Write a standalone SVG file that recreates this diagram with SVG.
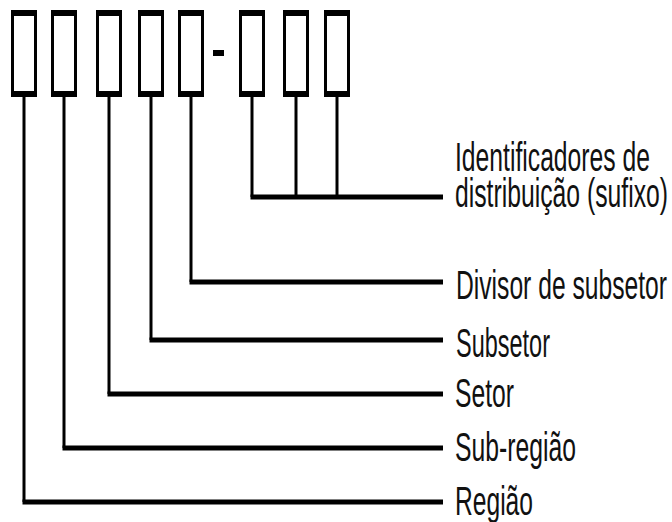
<svg xmlns="http://www.w3.org/2000/svg" width="672" height="522" viewBox="0 0 672 522">
<style>
.box{fill:#fff;stroke:#000;stroke-width:3}
.bar{fill:#000}
.v{stroke:#000;stroke-width:3;fill:none}
.h{stroke:#000;stroke-width:5;fill:none}
.lbl{font-family:"Liberation Sans Narrow","Liberation Sans",Arial,sans-serif;font-size:40px;fill:#111}
</style>
<rect width="672" height="522" fill="#fff"/>
<defs>
<g id="digit">
<rect class="box" x="1.5" y="1.5" width="23" height="84"/>
<rect class="bar" x="0" y="0" width="26" height="6"/>
<rect class="bar" x="0" y="81" width="26" height="6"/>
</g>
</defs>
<g id="connectors">
<path class="v" d="M24,97 V502"/>
<path class="h" d="M22.5,502 H443"/>
<path class="v" d="M64,97 V448"/>
<path class="h" d="M62.5,448 H443"/>
<path class="v" d="M109,97 V394"/>
<path class="h" d="M107.5,394 H443"/>
<path class="v" d="M151,97 V340"/>
<path class="h" d="M149.5,340 H443"/>
<path class="v" d="M191,97 V282"/>
<path class="h" d="M189.5,282 H443"/>
<path class="v" d="M252,97 V197"/>
<path class="v" d="M296,97 V197"/>
<path class="v" d="M337,97 V197"/>
<path class="h" d="M250.5,197 H443"/>
</g>
<g id="box1"><use href="#digit" x="11" y="10"/></g>
<g id="box2"><use href="#digit" x="51" y="10"/></g>
<g id="box3"><use href="#digit" x="96" y="10"/></g>
<g id="box4"><use href="#digit" x="138" y="10"/></g>
<g id="box5"><use href="#digit" x="178" y="10"/></g>
<g id="dash"><rect class="bar" x="213" y="50" width="11" height="6"/></g>
<g id="box6"><use href="#digit" x="239" y="10"/></g>
<g id="box7"><use href="#digit" x="283" y="10"/></g>
<g id="box8"><use href="#digit" x="324" y="10"/></g>
<g id="label-sufixo">
<text class="lbl" x="455" y="171" textLength="195" lengthAdjust="spacingAndGlyphs">Identificadores de</text>
<text class="lbl" x="455" y="207" textLength="213" lengthAdjust="spacingAndGlyphs">distribuição (sufixo)</text>
</g>
<g id="label-divisor"><text class="lbl" x="456" y="299" textLength="211" lengthAdjust="spacingAndGlyphs">Divisor de subsetor</text></g>
<g id="label-subsetor"><text class="lbl" x="456" y="357" textLength="94" lengthAdjust="spacingAndGlyphs">Subsetor</text></g>
<g id="label-setor"><text class="lbl" x="455" y="407" textLength="59" lengthAdjust="spacingAndGlyphs">Setor</text></g>
<g id="label-subregiao"><text class="lbl" x="455" y="461" textLength="121" lengthAdjust="spacingAndGlyphs">Sub-região</text></g>
<g id="label-regiao"><text class="lbl" x="455" y="515" textLength="78" lengthAdjust="spacingAndGlyphs">Região</text></g>
</svg>
